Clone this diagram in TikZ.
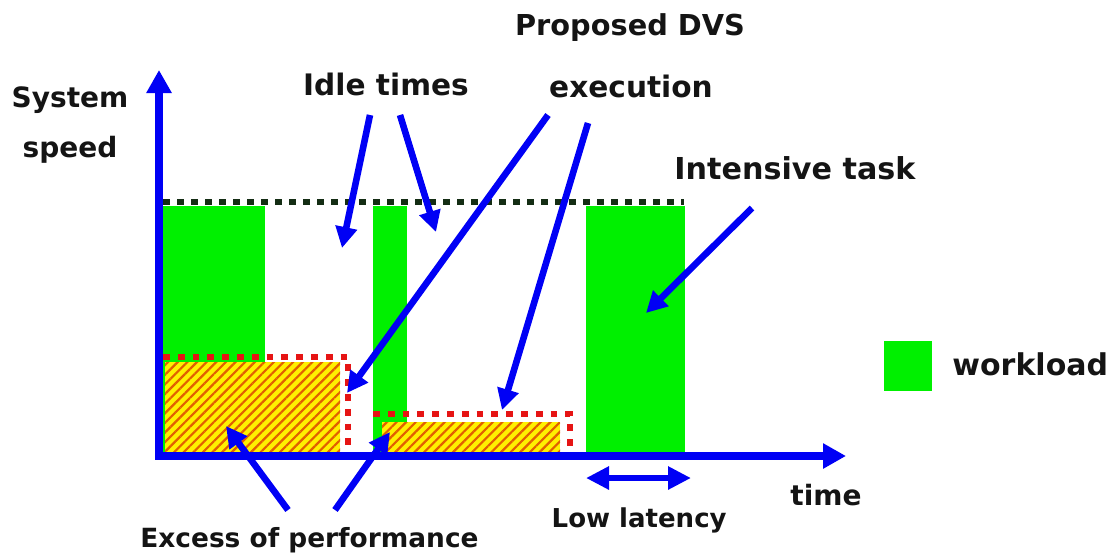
\documentclass[tikz,border=0pt]{standalone}
\usepackage{fontspec}
\setmainfont{DejaVu Sans}
\usetikzlibrary{arrows.meta,patterns.meta}
\definecolor{gr}{RGB}{0,240,0}
\definecolor{bl}{RGB}{0,0,245}
\definecolor{rd}{RGB}{230,20,20}
\definecolor{hatch}{RGB}{225,95,0}
\definecolor{yl}{RGB}{255,240,0}
\definecolor{dk}{RGB}{20,45,20}
\tikzset{
  lbl/.style={font=\fontsize{14pt}{16pt}\selectfont\bfseries, inner sep=0pt, text=black!92},
  fs/.style={font=\fontsize{#1pt}{#1pt}\selectfont\bfseries},
  ax/.style={draw=bl, line width=3.8pt, -{Triangle[length=11.5pt,width=12pt]}},
  arr/.style={draw=bl, line width=3.3pt, -{Triangle[length=10.5pt,width=10.5pt]}},
  dbl/.style={draw=bl, line width=3pt, {Triangle[length=11.5pt,width=11pt]}-{Triangle[length=11.5pt,width=11pt]}},
  wl/.style={fill=gr},
  hatched/.style={fill=yl, postaction={pattern={Lines[angle=45,distance=3.4pt,line width=1.1pt]}, pattern color=hatch}},
  reddot/.style={draw=rd, line width=3.4pt, dash pattern=on 3.4pt off 4pt},
  blackdot/.style={draw=dk, line width=2.6pt, dash pattern=on 3.4pt off 3.6pt}
}
\begin{document}
\begin{tikzpicture}[x=0.5pt,y=-0.5pt]
\useasboundingbox (0,0) rectangle (1118,559);
% workload blocks
\fill[wl] (163,206) rectangle (265,455);
\fill[wl] (373,206) rectangle (407,455);
\fill[wl] (586,206) rectangle (685,455);
% excess areas
\fill[hatched] (165,362) rectangle (340,452);
\fill[hatched] (382,422) rectangle (560,452);
\draw[reddot] (163,357) -- (348,357) -- (348,452);
\draw[reddot] (373,414) -- (570,414) -- (570,452);
% max speed line
\draw[blackdot] (163,202) -- (684,202);
% axes
\coordinate (o) at (159,456);
\coordinate (ytop) at (159,70);
\coordinate (xend) at (846,456);
\draw[ax] ([yshift=-1.9pt]o) -- (ytop);
\draw[ax] ([xshift=-1.9pt]o) -- (xend);
% labels
\node[lbl, anchor=base] (sys) at (70,107) {System};
\node[lbl, anchor=base] (spd) at (70,157) {speed};
\node[lbl, fs=14.8, anchor=base] (idle) at (386,95) {Idle times};
\node[lbl, fs=14.4, anchor=base] (dvs) at (630,35) {Proposed DVS};
\node[lbl, fs=14.8, anchor=base] (exe) at (631,97) {execution};
\node[lbl, fs=15.1, anchor=base] (int) at (795,179) {Intensive task};
\node[lbl, anchor=base] (time) at (826,505) {time};
\node[lbl, fs=13, anchor=base east] (lat) at (727,527) {Low latency};
\node[lbl, fs=13.2, anchor=base west] (exc) at (140,547) {Excess of performance};
% legend
\node[fill=gr, minimum width=24pt, minimum height=25pt, inner sep=0pt, anchor=north west] (leg) at (884,341) {};
\node[lbl, fs=15, anchor=base west] (wlt) at (952,375) {workload};
% arrow end points
\coordinate (i1s) at (370,115); \coordinate (i1e) at (342,248);
\coordinate (i2s) at (400,115); \coordinate (i2e) at (436,232);
\coordinate (e1s) at (548,115); \coordinate (e1e) at (347,393);
\coordinate (e2s) at (588,123); \coordinate (e2e) at (502,410);
\coordinate (ts) at (752,208); \coordinate (te) at (646,313);
\coordinate (x1s) at (288,510); \coordinate (x1e) at (226,426);
\coordinate (x2s) at (335,510); \coordinate (x2e) at (390,432);
\coordinate (la) at (586,478); \coordinate (lb) at (691,478);
\draw[arr] (i1s) -- (i1e);
\draw[arr] (i2s) -- (i2e);
\draw[arr] (e1s) -- (e1e);
\draw[arr] (e2s) -- (e2e);
\draw[arr] (ts) -- (te);
\draw[arr] (x1s) -- (x1e);
\draw[arr] (x2s) -- (x2e);
\draw[dbl] (la) -- (lb);
\end{tikzpicture}
\end{document}
